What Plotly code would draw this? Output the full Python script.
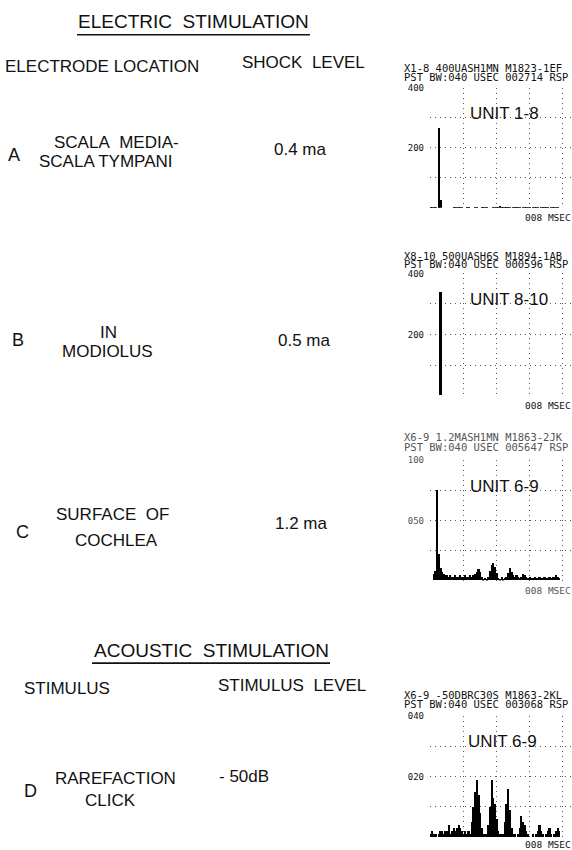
import plotly.graph_objects as go

# ---------------- data ----------------
# PST histograms, 0.1 ms bins covering 0-8 ms (bin index i -> i*0.1 ms)
bin_ms = [round(0.1 * i + 0.05, 2) for i in range(80)]

counts_A = [4, 4, 3, 4, 0, 268, 28, 0, 0, 0,
            0, 0, 0, 0, 4, 5, 4, 4, 5, 4,
            0, 0, 4, 4, 0, 0, 0, 4, 4, 0,
            0, 4, 5, 4, 4, 0, 0, 0, 4, 5,
            4, 4, 6, 4, 5, 4, 4, 5, 4, 0,
            4, 4, 5, 4, 4, 0, 4, 5, 4, 4,
            4, 0, 4, 4, 5, 4, 0, 4, 4, 5,
            4, 4, 0, 4, 5, 4, 4, 4, 0, 0]

counts_B = [0, 0, 0, 0, 0, 0, 338, 0, 0, 0,
            0, 0, 0, 0, 0, 0, 0, 0, 0, 0,
            0, 0, 0, 0, 0, 0, 0, 0, 0, 0,
            0, 0, 0, 0, 0, 0, 0, 0, 0, 0,
            0, 0, 0, 0, 0, 0, 0, 0, 0, 0,
            0, 0, 0, 0, 0, 0, 0, 0, 0, 0,
            0, 0, 0, 0, 0, 0, 0, 0, 0, 0,
            0, 0, 0, 0, 0, 0, 0, 0, 0, 0]

counts_C = [0, 0, 5, 8, 75, 22, 10, 7, 5, 4,
            4, 3, 4, 3, 3, 4, 3, 3, 4, 3,
            3, 4, 3, 3, 4, 3, 4, 5, 7, 9,
            7, 3, 1, 2, 1, 3, 8, 13, 14, 11,
            6, 2, 1, 3, 1, 2, 3, 6, 10, 7,
            4, 3, 4, 3, 2, 3, 5, 4, 3, 2,
            3, 2, 2, 3, 2, 2, 3, 2, 2, 3,
            2, 2, 3, 2, 3, 3, 4, 3, 2, 0]

counts_D = [1, 2, 1, 1, 0, 1, 2, 2, 1, 2,
            2, 4, 1, 2, 3, 2, 3, 4, 3, 2,
            1, 2, 1, 2, 1, 5, 10, 15, 19, 14,
            8, 3, 1, 1, 1, 4, 10, 19, 13, 11,
            6, 2, 1, 1, 1, 5, 11, 16, 9, 3,
            1, 1, 0, 1, 3, 7, 5, 4, 2, 1,
            0, 0, 1, 0, 1, 2, 4, 2, 1, 0,
            1, 2, 3, 1, 0, 1, 2, 3, 2, 0]

panel_counts = [counts_A, counts_B, counts_C, counts_D]
panel_ymax = [400, 400, 100, 40]
panel_top_label = ["400", "400", "100", "040"]
panel_mid_label = ["200", "200", "050", "020"]
panel_units = ["UNIT 1-8", "UNIT 8-10", "UNIT 6-9", "UNIT 6-9"]
panel_header1 = ["X1-8 400UASH1MN M1823-1EF", "X8-10 500UASH6S M1894-1AB",
                 "X6-9 1.2MASH1MN M1863-2JK", "X6-9 -50DBRC30S M1863-2KL"]
panel_header2 = ["PST BW:040 USEC 002714 RSP", "PST BW:040 USEC 000596 RSP",
                 "PST BW:040 USEC 005647 RSP", "PST BW:040 USEC 003068 RSP"]
time_label = "008 MSEC"

electric_title = "ELECTRIC\u00a0\u00a0STIMULATION"
electric_col1 = "ELECTRODE LOCATION"
electric_col2 = "SHOCK\u00a0\u00a0LEVEL"
electric_rows = ["A", "B", "C"]
electrode_locations = [["SCALA\u00a0\u00a0MEDIA-", "SCALA TYMPANI"],
                       ["IN", "MODIOLUS"],
                       ["SURFACE\u00a0\u00a0OF", "COCHLEA"]]
shock_levels = ["0.4 ma", "0.5 ma", "1.2 ma"]

acoustic_title = "ACOUSTIC\u00a0\u00a0STIMULATION"
acoustic_col1 = "STIMULUS"
acoustic_col2 = "STIMULUS\u00a0\u00a0LEVEL"
acoustic_rows = ["D"]
stimuli = [["RAREFACTION", "CLICK"]]
stimulus_levels = ["-\u00a050dB"]

# ---------------- layout geometry (pixels) ----------------
W, H = 572, 850
def PX(x):
    return x / W
def PY(y):
    return 1 - y / H

panel_geom = [  # (top px, baseline px, header1 y, header2 y)
    (83, 204, 63, 72),
    (270, 393, 252, 261),
    (458, 579, 435, 445),
    (715, 837, 694, 703),
]
panel_ink = ["#111111", "#111111", "#555555", "#111111"]
plot_left = 430
unit_x = [468, 468, 468, 466]

SANS = "Liberation Sans"
MONO = "DejaVu Sans Mono"
INK = "#111111"
GRID = "#555555"

fig = go.Figure()
layout = dict(
    width=W, height=H,
    margin=dict(l=0, r=0, t=0, b=0),
    paper_bgcolor="white", plot_bgcolor="white",
    showlegend=False, hovermode=False,
    bargap=0,
)
annotations = []
shapes = []

for i, (counts, ymax) in enumerate(zip(panel_counts, panel_ymax)):
    n = "" if i == 0 else str(i + 1)
    top, base, h1, h2 = panel_geom[i]
    ink = panel_ink[i]
    fig.add_trace(go.Bar(
        x=bin_ms, y=counts, width=0.1,
        marker=dict(color="black", line=dict(width=0)),
        xaxis="x" + n, yaxis="y" + n,
    ))
    layout["xaxis" + n] = dict(
        domain=[PX(plot_left), 1.0], range=[0, 8.6], anchor="y" + n,
        tick0=0, dtick=2, showticklabels=False, ticks="",
        showgrid=True, gridcolor=GRID, gridwidth=1, griddash="1px,4px",
        zeroline=False, showline=False, fixedrange=True,
    )
    q = ymax / 4
    layout["yaxis" + n] = dict(
        domain=[PY(base), PY(top)], range=[0, ymax], anchor="x" + n,
        tickvals=[0, q, 2 * q, 3 * q, 4 * q],
        ticktext=["", "", panel_mid_label[i], "", panel_top_label[i]],
        tickfont=dict(family=MONO, size=9, color=ink),
        ticks="", ticklabelstandoff=5,
        showgrid=True, gridcolor=GRID, gridwidth=1, griddash="1px,4px",
        zeroline=False, showline=False, fixedrange=True,
    )
    # headers
    for txt, yy in ((panel_header1[i], h1), (panel_header2[i], h2)):
        annotations.append(dict(
            text=txt, x=PX(402), y=PY(yy), xref="paper", yref="paper",
            xanchor="left", yanchor="middle", showarrow=False,
            font=dict(family=MONO, size=10.5, color=ink),
        ))
    annotations.append(dict(
        text=panel_units[i], x=PX(unit_x[i]), y=PY(top + 26), xref="paper", yref="paper",
        xanchor="left", yanchor="middle", showarrow=False,
        font=dict(family=SANS, size=17, color=INK),
    ))
    msec_y = min(base + 10, H - 6)
    annotations.append(dict(
        text=time_label, x=PX(523), y=PY(msec_y), xref="paper", yref="paper",
        xanchor="left", yanchor="middle", showarrow=False,
        font=dict(family=MONO, size=9.5, color=ink),
    ))

def label(text, x, y, size=17):
    annotations.append(dict(
        text=text, x=PX(x), y=PY(y), xref="paper", yref="paper",
        xanchor="center", yanchor="middle", showarrow=False,
        font=dict(family=SANS, size=size, color=INK),
    ))

# electric stimulation block
label(electric_title, 193, 17, 19)
shapes.append(dict(type="line", xref="paper", yref="paper",
                   x0=PX(77), x1=PX(310), y0=PY(30), y1=PY(30),
                   line=dict(color=INK, width=1.6)))
label(electric_col1, 102, 62)
label(electric_col2, 303, 58)

row_letter_pos = [(14, 151), (18, 337), (22, 530)]
row_loc_pos = [((116, 138), (106, 157)), ((109, 329), (107, 349)), ((112, 513), (116, 539))]
row_level_pos = [(300, 145), (304, 337), (301, 522)]
for k in range(3):
    label(electric_rows[k], *row_letter_pos[k], size=18)
    for t, p in zip(electrode_locations[k], row_loc_pos[k]):
        label(t, *p)
    label(shock_levels[k], *row_level_pos[k])

# acoustic stimulation block
label(acoustic_title, 211, 649, 19)
shapes.append(dict(type="line", xref="paper", yref="paper",
                   x0=PX(92), x1=PX(330), y0=PY(662), y1=PY(662),
                   line=dict(color=INK, width=1.6)))
label(acoustic_col1, 67, 688)
label(acoustic_col2, 292, 685)
label(acoustic_rows[0], 30, 791, 18)
label(stimuli[0][0], 115, 778)
label(stimuli[0][1], 110, 800)
label(stimulus_levels[0], 244, 776)

layout["annotations"] = annotations
layout["shapes"] = shapes
fig.update_layout(**layout)
fig.write_html(
    "out.html",
    config={"displayModeBar": False},
    post_script="document.body.style.margin='0';document.body.style.padding='0';document.body.style.overflow='hidden';",
)
